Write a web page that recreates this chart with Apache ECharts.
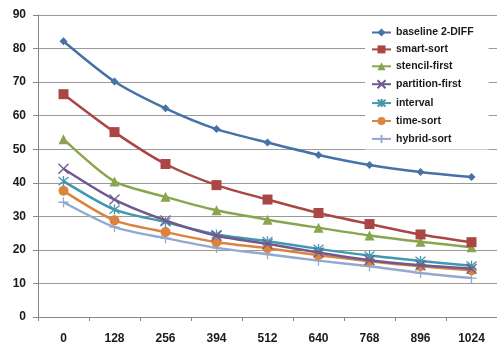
<!DOCTYPE html>
<html><head><meta charset="utf-8">
<script src="https://cdn.jsdelivr.net/npm/echarts@6/dist/echarts.min.js"></script>
<style>html,body{margin:0;padding:0;background:#fff}#c{width:497px;height:345px}</style>
</head><body><div id="c"></div>
<script>
var categories = ['0','128','256','394','512','640','768','896','1024'];
var seriesNames = ['baseline 2-DIFF','smart-sort','stencil-first','partition-first','interval','time-sort','hybrid-sort'];
var baseline = [82.2, 70.2, 62.2, 56.0, 52.0, 48.3, 45.3, 43.2, 41.7];
var smartSort = [66.4, 55.1, 45.6, 39.3, 35.0, 31.0, 27.7, 24.6, 22.3];
var stencilFirst = [53.0, 40.4, 35.8, 31.8, 29.0, 26.6, 24.3, 22.4, 20.8];
var partitionFirst = [44.2, 35.0, 28.8, 24.2, 21.8, 19.2, 16.9, 15.4, 14.4];
var intervalS = [40.5, 32.0, 28.3, 24.6, 22.6, 20.3, 18.3, 16.7, 15.3];
var timeSort = [37.6, 28.8, 25.3, 22.3, 20.5, 18.4, 16.6, 15.1, 13.9];
var hybridSort = [34.2, 26.8, 23.5, 20.6, 18.7, 16.8, 15.1, 13.1, 11.6];
var yTicks = [0, 10, 90];

var colors = ['#4572A7','#AA4643','#89A54E','#71588F','#4198AF','#DB843D','#93A9CF'];
var symbols = ['diamond','rect','triangle',
  'path://M0,0L10,10M10,0L0,10',
  'path://M0,0L10,10M10,0L0,10M5,-1L5,11',
  'circle',
  'path://M5,0L5,10M0,5L10,5'];
var sizes = [8, 10, 10, 10, 10, 10, 10];
var data = [baseline, smartSort, stencilFirst, partitionFirst, intervalS, timeSort, hybridSort];

var series = seriesNames.map(function(n, i){
  var isPath = symbols[i].indexOf('path://') === 0;
  return {
    name: n, type: 'line', data: data[i], smooth: 0.25,
    symbol: symbols[i], symbolSize: sizes[i], showAllSymbol: true,
    lineStyle: {color: colors[i], width: 2.5},
    itemStyle: isPath ? {color: 'none', borderColor: colors[i], borderWidth: 1.3} : {color: colors[i], borderWidth: 0},
    emphasis: {disabled: true},
    z: 10 - i
  };
});

var chart = echarts.init(document.getElementById('c'), null, {renderer: 'canvas'});
chart.setOption({
  animation: false,
  backgroundColor: '#fff',
  grid: {left: 38, top: 15, height: 306, width: 463.5},
  xAxis: {
    type: 'category', data: categories, boundaryGap: true,
    axisLine: {lineStyle: {color: '#868686', width: 1}},
    axisTick: {show: true, length: 4, lineStyle: {color: '#868686'}},
    axisLabel: {color: '#1a1a1a', fontWeight: 'bold', fontSize: 12, fontFamily: 'Liberation Sans', margin: 16}
  },
  yAxis: {
    type: 'value', min: yTicks[0], max: yTicks[2], interval: yTicks[1],
    axisLine: {show: true, lineStyle: {color: '#868686', width: 1}},
    axisTick: {show: true, length: 5, lineStyle: {color: '#868686'}},
    splitLine: {lineStyle: {color: '#9a9a9a', width: 1}},
    axisLabel: {color: '#1a1a1a', fontWeight: 'bold', fontSize: 12, fontFamily: 'Liberation Sans', margin: 12}
  },
  legend: {
    orient: 'vertical', left: 365, top: 23,
    backgroundColor: '#fff',
    padding: [4, 15, 4, 6],
    itemWidth: 19, itemHeight: 10, itemGap: 5.9, itemTextGap: 2,
    textStyle: {color: '#1a1a1a', fontWeight: 'bold', fontSize: 10.5, fontFamily: 'Liberation Sans', lineHeight: 10},
    data: seriesNames
  },
  series: series
});
</script></body></html>
